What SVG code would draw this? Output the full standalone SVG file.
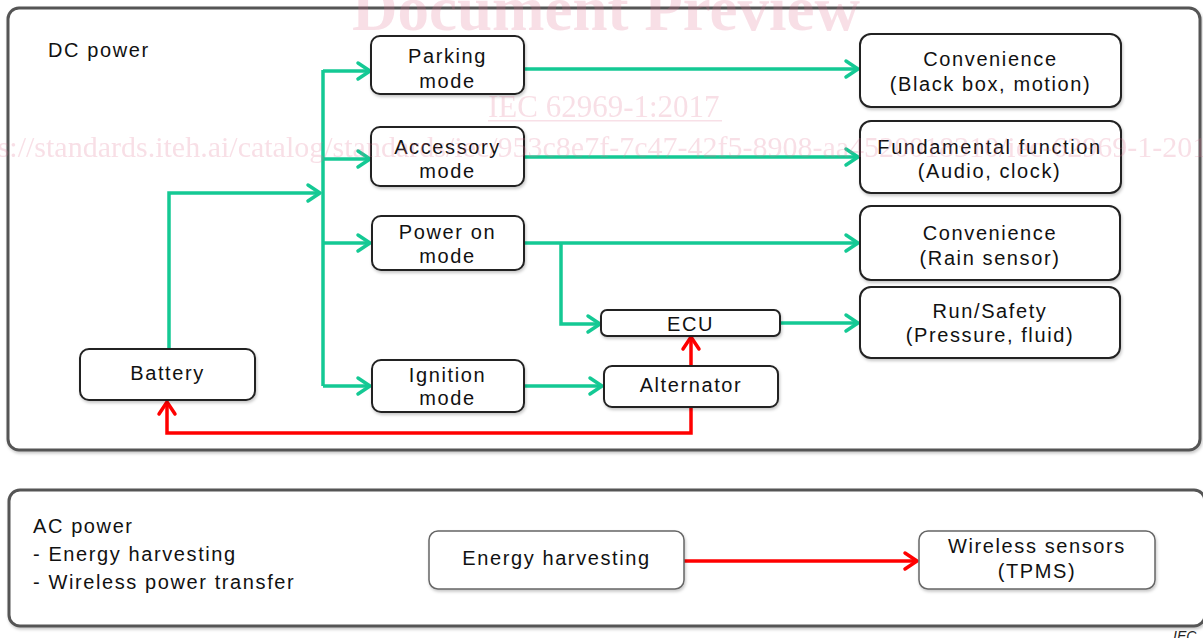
<svg xmlns="http://www.w3.org/2000/svg" width="1203" height="638" viewBox="0 0 1203 638">
<style>
  .frame { fill: #ffffff; stroke: #555555; stroke-width: 3; }
  .node { fill: #ffffff; stroke: #222222; stroke-width: 2; }
  .node2 { fill: #ffffff; stroke: #666666; stroke-width: 1.5; }
  .t { font-family: "Liberation Sans", Arial, sans-serif; font-size: 20px; letter-spacing: 1.6px; fill: #111111; }
  .c { text-anchor: middle; }
  .g { fill: none; stroke: #14c994; stroke-width: 3.5; }
  .r { fill: none; stroke: #ff0000; stroke-width: 3.5; }
  .wm { font-family: "Liberation Serif", "Times New Roman", serif; fill: #e07090; opacity: 0.22; }
</style>
<defs>
  <filter id="sh" x="-10%" y="-20%" width="120%" height="150%">
    <feDropShadow dx="1" dy="2" stdDeviation="1.5" flood-color="#000" flood-opacity="0.22"/>
  </filter>
  <marker id="ag" markerUnits="userSpaceOnUse" viewBox="0 0 16 20" refX="14" refY="10" markerWidth="16" markerHeight="20" orient="auto" overflow="visible">
    <path d="M2,2 L14,10 L2,18" fill="none" stroke="#14c994" stroke-width="3.5" stroke-linecap="round" stroke-linejoin="round"/>
  </marker>
  <marker id="ar" markerUnits="userSpaceOnUse" viewBox="0 0 16 20" refX="14" refY="10" markerWidth="16" markerHeight="20" orient="auto" overflow="visible">
    <path d="M2,2 L14,10 L2,18" fill="none" stroke="#ff0000" stroke-width="3.5" stroke-linecap="round" stroke-linejoin="round"/>
  </marker>
</defs>
<rect x="0" y="0" width="1203" height="638" fill="#ffffff"/>

<g id="dc-frame">
  <rect class="frame" x="8" y="8" width="1192" height="442" rx="11" filter="url(#sh)"/>
  <text class="t" x="48" y="57">DC power</text>
</g>
<g id="ac-frame">
  <rect class="frame" x="9" y="490" width="1196" height="136" rx="11" filter="url(#sh)"/>
  <text class="t" x="33" y="533">AC power</text>
  <text class="t" x="33" y="561">- Energy harvesting</text>
  <text class="t" x="33" y="589">- Wireless power transfer</text>
</g>

<g id="connectors">
  <path class="g" d="M169,349 V193 H320" marker-end="url(#ag)"/>
  <path class="g" d="M323,70 V386"/>
  <path class="g" d="M323,71 H370" marker-end="url(#ag)"/>
  <path class="g" d="M323,159 H370" marker-end="url(#ag)"/>
  <path class="g" d="M323,243 H370" marker-end="url(#ag)"/>
  <path class="g" d="M323,386 H370" marker-end="url(#ag)"/>
  <path class="g" d="M524,69 H858" marker-end="url(#ag)"/>
  <path class="g" d="M524,157 H858" marker-end="url(#ag)"/>
  <path class="g" d="M524,243 H858" marker-end="url(#ag)"/>
  <path class="g" d="M561,243 V324 H600" marker-end="url(#ag)"/>
  <path class="g" d="M780,323 H858" marker-end="url(#ag)"/>
  <path class="g" d="M524,386 H602" marker-end="url(#ag)"/>
  <path class="r" d="M691,366 V337" marker-end="url(#ar)"/>
  <path class="r" d="M691,407 V433 H167 V402" marker-end="url(#ar)"/>
  <path class="r" d="M684,561 H917" marker-end="url(#ar)"/>
</g>

<g id="parking-mode">
  <rect class="node" x="371" y="36" width="153" height="58" rx="9" filter="url(#sh)"/>
  <text class="t c" x="447.5" y="63">Parking</text>
  <text class="t c" x="447.5" y="88">mode</text>
</g>
<g id="accessory-mode">
  <rect class="node" x="371" y="127" width="153" height="59" rx="9" filter="url(#sh)"/>
  <text class="t c" x="447.5" y="154">Accessory</text>
  <text class="t c" x="447.5" y="178">mode</text>
</g>
<g id="power-on-mode">
  <rect class="node" x="372" y="216" width="152" height="54" rx="9" filter="url(#sh)"/>
  <text class="t c" x="447.5" y="239">Power on</text>
  <text class="t c" x="447.5" y="263">mode</text>
</g>
<g id="ignition-mode">
  <rect class="node" x="372" y="360" width="152" height="52" rx="9" filter="url(#sh)"/>
  <text class="t c" x="447.5" y="382">Ignition</text>
  <text class="t c" x="447.5" y="405">mode</text>
</g>
<g id="battery">
  <rect class="node" x="80" y="349" width="175" height="51" rx="9" filter="url(#sh)"/>
  <text class="t c" x="167.5" y="380">Battery</text>
</g>
<g id="ecu">
  <rect class="node" x="601" y="310" width="179" height="26" rx="6" filter="url(#sh)"/>
  <text class="t c" x="690.5" y="331">ECU</text>
</g>
<g id="alternator">
  <rect class="node" x="604" y="366" width="174" height="41" rx="8" filter="url(#sh)"/>
  <text class="t c" x="691" y="392">Alternator</text>
</g>
<g id="convenience-blackbox">
  <rect class="node" x="860" y="34" width="261" height="73" rx="11" filter="url(#sh)"/>
  <text class="t c" x="990.5" y="66">Convenience</text>
  <text class="t c" x="990.5" y="91">(Black box, motion)</text>
</g>
<g id="fundamental-function">
  <rect class="node" x="860" y="121" width="261" height="72" rx="11" filter="url(#sh)"/>
  <text class="t c" x="989.5" y="154">Fundamental function</text>
  <text class="t c" x="989.5" y="178">(Audio, clock)</text>
</g>
<g id="convenience-rain">
  <rect class="node" x="860" y="206" width="260" height="74" rx="11" filter="url(#sh)"/>
  <text class="t c" x="990" y="240">Convenience</text>
  <text class="t c" x="990" y="265">(Rain sensor)</text>
</g>
<g id="run-safety">
  <rect class="node" x="860" y="287" width="260" height="71" rx="11" filter="url(#sh)"/>
  <text class="t c" x="990" y="318">Run/Safety</text>
  <text class="t c" x="990" y="342">(Pressure, fluid)</text>
</g>
<g id="energy-harvesting">
  <rect class="node2" x="429" y="531" width="255" height="58" rx="9" filter="url(#sh)"/>
  <text class="t c" x="556.5" y="565">Energy harvesting</text>
</g>
<g id="wireless-sensors">
  <rect class="node2" x="919" y="531" width="236" height="58" rx="9" filter="url(#sh)"/>
  <text class="t c" x="1037" y="553">Wireless sensors</text>
  <text class="t c" x="1037" y="578">(TPMS)</text>
</g>

<text x="1173" y="641" font-family="Liberation Sans, Arial, sans-serif" font-size="14" font-style="italic" fill="#222">IEC</text>

<g id="watermark">
  <text class="wm" x="606" y="30" font-size="63" font-weight="bold" text-anchor="middle">Document Preview</text>
  <text class="wm" x="488" y="117" font-size="31">IEC 62969-1:2017</text>
  <rect x="488" y="120" width="234" height="1.5" fill="#e07090" opacity="0.22"/>
  <text class="wm" x="-49" y="157" font-size="30">https://standards.iteh.ai/catalog/standards/iec/953c8e7f-7c47-42f5-8908-aa4520018310/iec-62969-1-2017</text>
</g>
</svg>
